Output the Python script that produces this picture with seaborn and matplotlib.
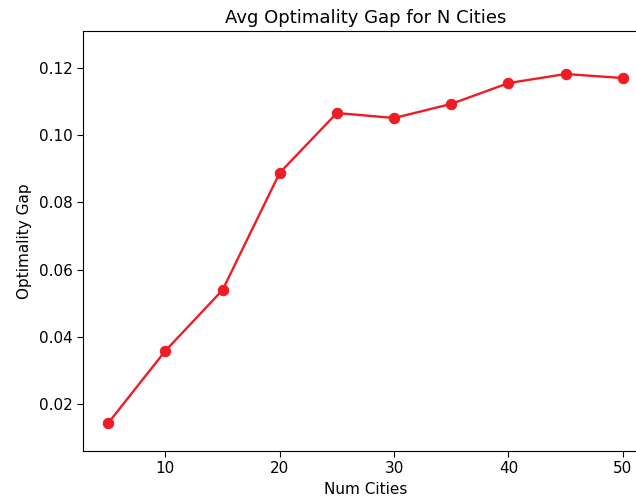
import matplotlib
matplotlib.use("Agg")
import pandas as pd
import matplotlib.pyplot as plt
import seaborn as sns

num_cities = [5, 10, 15, 20, 25, 30, 35, 40, 45, 50]
opt_gap = [0.0143, 0.0358, 0.0539, 0.0888, 0.1066, 0.1051, 0.1093, 0.1155, 0.1182, 0.1170]

df = pd.DataFrame({"Num Cities": num_cities, "Optimality Gap": opt_gap})

sns.set_style("ticks")
plt.rcParams["font.family"] = ["DejaVu Sans"]
plt.rcParams["text.color"] = "black"
plt.rcParams["axes.labelcolor"] = "black"

fig = plt.figure(figsize=(6.36, 4.99), dpi=100)
ax = fig.add_axes([83 / 636, 1 - 451 / 499, 565 / 636, 420 / 499])

sns.lineplot(data=df, x="Num Cities", y="Optimality Gap", color="#ee1c25",
             marker="o", markersize=7.5, markeredgecolor="#ee1c25", linewidth=1.7, ax=ax)

ax.set_xlim(2.8, 52.2)
ax.set_ylim(0.006, 0.131)
ax.set_xticks([10, 20, 30, 40, 50])
ax.set_yticks([0.02, 0.04, 0.06, 0.08, 0.10, 0.12])
ax.tick_params(labelsize=11, colors="black", length=4)
for s in ax.spines.values():
    s.set_color("black")
ax.set_xlabel("Num Cities", fontsize=11, color="black")
ax.set_ylabel("Optimality Gap", fontsize=11, color="black", labelpad=5)
ax.set_title("Avg Optimality Gap for N Cities", fontsize=13, color="black")

fig.savefig("out.png", dpi=100)
